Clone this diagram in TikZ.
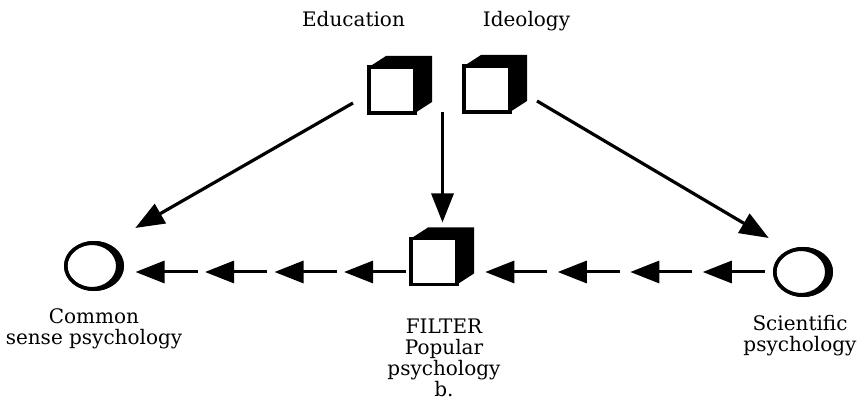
\documentclass[tikz,border=0pt]{standalone}
\usepackage{fontspec}
\setmainfont{DejaVu Serif}
\usetikzlibrary{arrows.meta,calc,shapes.geometric,decorations.markings}
\tikzset{
  cube/.style={rectangle, draw, fill=white, line width=3.5pt, minimum size=46pt, inner sep=0pt, outer sep=0pt},
  psy/.style={ellipse, draw, line width=3.5pt, minimum width=56.5pt, minimum height=46.5pt, inner sep=0pt, outer sep=0pt},
  lbl/.style={font=\fontsize{20}{21}\selectfont, align=center, inner sep=0pt, anchor=base},
  arr/.style={line width=3.2pt, -{Triangle[length=29pt, width=22pt]}},
  dart/.style={line width=3pt, -{Triangle[length=29pt, width=22pt]}},
  darts/.style 2 args={decorate, decoration={markings,
    mark=between positions #1 and 250pt step #2 with {\draw[dart] (0,0) -- (62,0);}}},
}

\begin{document}
\begin{tikzpicture}[x=1pt, y=1pt]
  \useasboundingbox (0,0) rectangle (868,409);
  \node[cube] (edu) at (392,319) {};
  \node[cube] (ideo) at (487,320) {};
  \node[cube] (filt) at (434,147.5) {};
  \foreach \nm in {edu,ideo,filt}
    \fill (\nm.north west) -- ++(17,11) -- ($(\nm.north east)+(17,11)$) -- ($(\nm.south east)+(17,11)$) -- (\nm.south east) -- (\nm.north east) -- cycle;
  \node[psy] (common) at (94,143) {};
  \node[psy] (sci) at (803,137) {};
  \foreach \nm in {common,sci}
    \fill[even odd rule] (\nm.center) ellipse [x radius=30pt, y radius=25pt]
      ($(\nm.center)+(-2.25,0)$) ellipse [x radius=24.25pt, y radius=21pt];

  \node[lbl] (edulbl) at (353.5,382) {Education};
  \node[lbl] (ideolbl) at (526.5,382) {Ideology};
  \node[lbl] (commonlbl) at (94,64) {Common\\sense psychology};
  \node[lbl] (filtlbl) at (444,12) {FILTER\\Popular\\psychology\\b.};
  \node[lbl] (scilbl) at (800,57) {Scientific\\psychology};

  \draw[arr] ($(edu.south west)+(-16,10)$) -- ($(common.east)+(13,38)$);
  \draw[arr] ($(ideo.south east)+(27,11)$) -- ($(sci.west)+(-6,34)$);
  \coordinate (split) at ($(edu.south east)!.5!(ideo.south west)+(3,0)$);
  \draw[arr, shorten >=16pt] (split) -- (split |- filt.north);

  \path[darts={10pt}{72.5pt}] (sci.west) -- (sci.west -| filt.east);
  \path[darts={5pt}{69.5pt}] (filt.west |- sci.west) -- (common.east |- sci.west);
\end{tikzpicture}
\end{document}
